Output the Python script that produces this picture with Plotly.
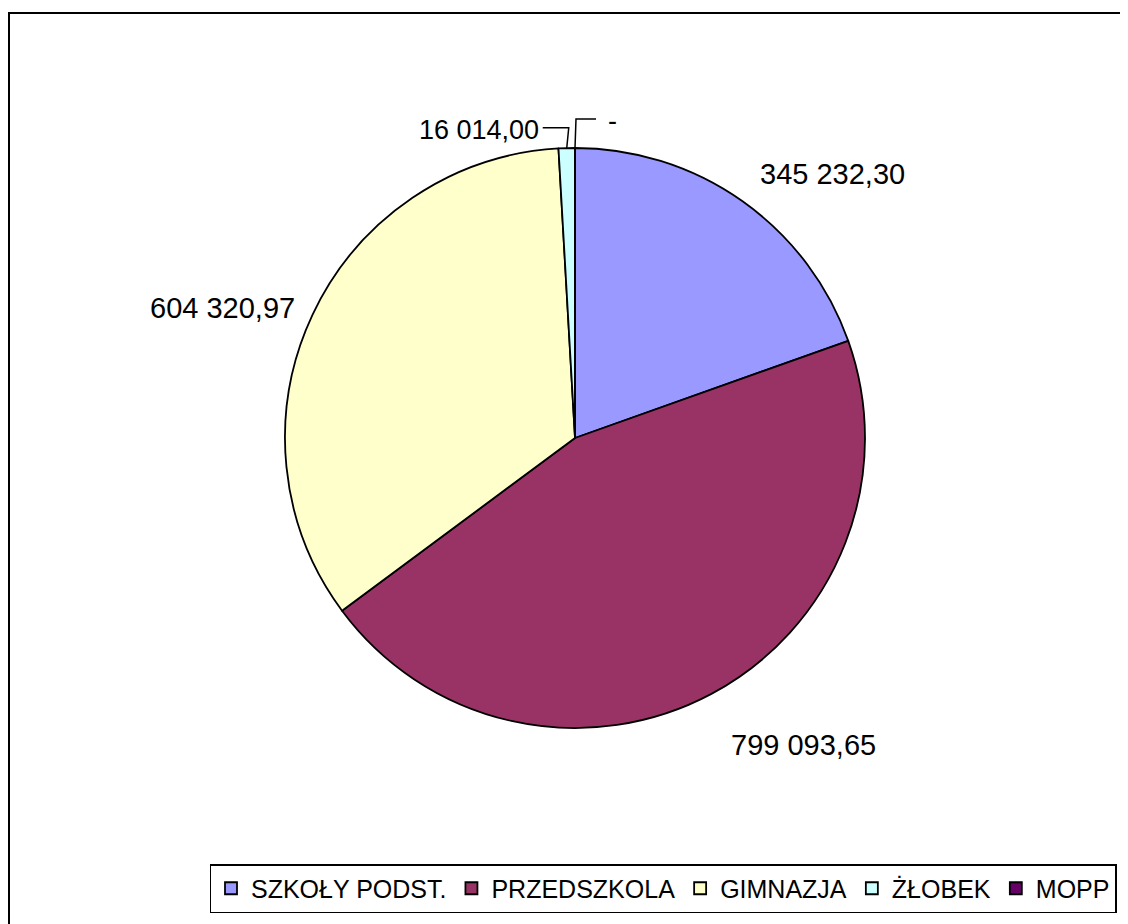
import math
import plotly.graph_objects as go

# data
categories = ['SZKOŁY PODST.', 'PRZEDSZKOLA', 'GIMNAZJA', 'ŻŁOBEK', 'MOPP']
values = [345232.30, 799093.65, 604320.97, 16014.00, 0.0]
colors = ['#9999FF', '#993366', '#FFFFCC', '#CCFFFF', '#660066']

# page geometry (screen pixels); the page body adds an 8px margin,
# so the figure is made 8px smaller to fit the window without scrollbars
OFF = 8
W, H = 1128 - OFF, 924 - OFF
CX, CY, R = 575, 438, 290
FONT = 'Liberation Sans, Arial, sans-serif'
# how far outside the rim each label corner sits, by vertical anchor
LABEL_DIST = {'bottom': 1.04, 'middle': 1.06, 'top': 1.13}


def fmt_pl(v):
    # polish style number: space thousands, comma decimals, '-' for zero
    if v == 0:
        return '-'
    s = f'{v:,.2f}'
    return s.replace(',', ' ').replace('.', ',')


def px_to_paper(x, y):
    return (x - OFF) / W, 1 - (y - OFF) / H


fig = go.Figure()
x0, y1 = px_to_paper(CX - R, CY - R)
x1, y0 = px_to_paper(CX + R, CY + R)
fig.add_trace(go.Pie(
    labels=categories, values=values, sort=False, direction='clockwise',
    rotation=0, textinfo='none', hoverinfo='label+value',
    marker=dict(colors=colors, line=dict(color='black', width=1.8)),
    domain=dict(x=[x0, x1], y=[y0, y1]),
))

total = sum(values)
cum = 0
for i, (cat, v) in enumerate(zip(categories, values)):
    mid = (cum + v / 2) / total * 2 * math.pi
    cum += v
    s, c = math.sin(mid), math.cos(mid)
    right = s > -1e-6
    text = fmt_pl(v)
    if v / total > 0.05:
        # big slices: label corner sits just outside the edge
        xa = 'left' if right else 'right'
        ya = 'middle' if abs(c) < 0.5 else ('bottom' if c > 0 else 'top')
        d = LABEL_DIST[ya]
        nudge = 0
        if right:
            nudge = 9 if ya == 'bottom' else 0
        ax, ay = px_to_paper(CX + s * R * d + nudge, CY - c * R * d)
        fig.add_annotation(x=ax, y=ay, xref='paper', yref='paper', text=text,
                           showarrow=False, xanchor=xa, yanchor=ya,
                           font=dict(size=29, color='black', family=FONT))
    else:
        # thin slices: elbow leader line
        ex, ey = CX + s * R, CY - c * R
        level = 1.10 if right else 1.07
        ky = CY - R * level
        run = 20 if right else -26
        kx = ex + (1 if right else 2)
        lx = kx + run
        pts = [(ex, ey), (kx, ky), (lx, ky)]
        path = 'M ' + ' L '.join(f'{px_to_paper(a, b)[0]},{px_to_paper(a, b)[1]}' for a, b in pts)
        fig.add_shape(type='path', path=path, xref='paper', yref='paper',
                      line=dict(color='black', width=1.5))
        ax, ay = px_to_paper(lx + (10 if right else -2), ky + 2)
        fig.add_annotation(x=ax, y=ay, xref='paper', yref='paper', text=text,
                           showarrow=False, xanchor='left' if right else 'right',
                           yanchor='middle',
                           font=dict(size=27, color='black', family=FONT))

# outer chart frame (bottom side falls off the page)
fx0, fy1 = px_to_paper(9, 13)
fx1, fy0 = px_to_paper(1126, 940)
fig.add_shape(type='rect', xref='paper', yref='paper', x0=fx0, x1=fx1, y0=fy0, y1=fy1,
              line=dict(color='black', width=2), fillcolor='rgba(0,0,0,0)')

lx_c, ly_b = px_to_paper(663, 913)
fig.update_layout(
    width=W, height=H,
    margin=dict(l=0, r=0, t=0, b=0),
    paper_bgcolor='white', plot_bgcolor='white',
    showlegend=True,
    legend=dict(
        orientation='h', x=lx_c, xanchor='center', y=ly_b, yanchor='bottom',
        bordercolor='black', borderwidth=1.5, bgcolor='white',
        font=dict(size=25, color='black', family=FONT),
        itemwidth=30, tracegroupgap=0,
    ),
)

fig.write_html('out.html')
